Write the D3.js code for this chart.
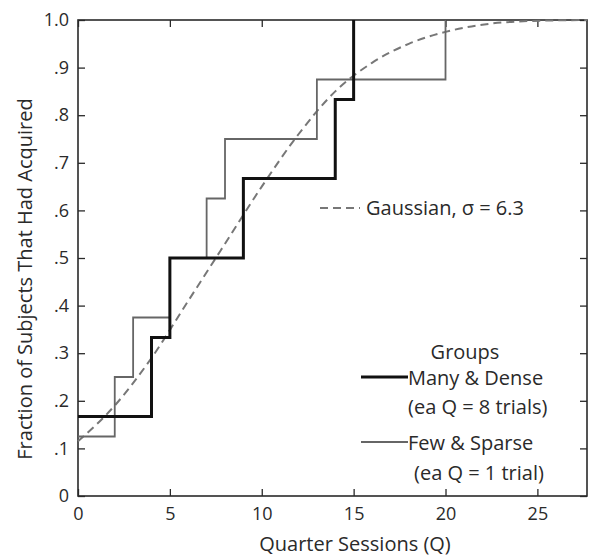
<!DOCTYPE html>
<html>
<head>
<meta charset="utf-8">
<script src="https://cdn.jsdelivr.net/npm/d3@7"></script>
<style>
  body { margin: 0; background: #fff; }
  text { font-family: "Open Sans", sans-serif; fill: #2a2a2a; }
</style>
</head>
<body>
<div id="vis-holder"></div>
<script>
// Chart size and plot margins
const width = 600;
const height = 557;
const margin = { top: 20, right: 13, bottom: 61, left: 78 };

// Step data: session where the fraction changes, and the fraction reached
const denseX = [0, 4, 5, 9, 14, 15];
const denseY = [0.167, 0.333, 0.5, 0.667, 0.833, 1.0];

const sparseX = [0, 2, 3, 5, 7, 8, 13, 20];
const sparseY = [0.125, 0.25, 0.375, 0.5, 0.625, 0.75, 0.875, 1.0];

// Gaussian curve
const gaussX = [0, 2, 4, 6, 8, 10, 12, 14, 16, 18, 20, 22, 24, 27.7];
const gaussY = [0.115, 0.19, 0.29, 0.41, 0.53, 0.65, 0.76, 0.85, 0.91, 0.95, 0.975, 0.99, 0.997, 1.0];

// Tick labels
const xTicks = [0, 5, 10, 15, 20, 25];
const yTicks = [0, 0.1, 0.2, 0.3, 0.4, 0.5, 0.6, 0.7, 0.8, 0.9, 1.0];
const yTickLabels = ["0", ".1", ".2", ".3", ".4", ".5", ".6", ".7", ".8", ".9", "1.0"];

const xMax = 27.7;

const svg = d3.select("#vis-holder")
  .append("svg")
  .attr("width", width)
  .attr("height", height);

const x = d3.scaleLinear()
  .domain([0, xMax])
  .range([margin.left, width - margin.right]);

const y = d3.scaleLinear()
  .domain([0, 1])
  .range([height - margin.bottom, margin.top]);

// Axes with inward ticks on all four sides
const tickLen = 7;
const axisColor = "#2a2a2a";
const tickFont = "18px";
const labelFont = "20px";

svg.append("g")
  .attr("transform", `translate(0,${height - margin.bottom})`)
  .call(d3.axisBottom(x).tickValues(xTicks).tickSizeInner(-tickLen).tickSizeOuter(0).tickPadding(11))
  .call(g => g.select(".domain").remove())
  .call(g => g.selectAll("line").attr("stroke", axisColor).attr("stroke-width", 1.3))
  .call(g => g.selectAll("text").attr("font-size", tickFont).attr("fill", "#2a2a2a")
    .attr("font-family", "Open Sans, sans-serif"));

svg.append("g")
  .attr("transform", `translate(0,${margin.top})`)
  .call(d3.axisTop(x).tickValues(xTicks).tickSizeInner(-tickLen).tickSizeOuter(0).tickFormat(""))
  .call(g => g.select(".domain").remove())
  .call(g => g.selectAll("line").attr("stroke", axisColor).attr("stroke-width", 1.3));

svg.append("g")
  .attr("transform", `translate(${margin.left},0)`)
  .call(d3.axisLeft(y).tickValues(yTicks).tickSizeInner(-tickLen).tickSizeOuter(0).tickPadding(9)
    .tickFormat((d, i) => yTickLabels[i]))
  .call(g => g.select(".domain").remove())
  .call(g => g.selectAll("line").attr("stroke", axisColor).attr("stroke-width", 1.3))
  .call(g => g.selectAll("text").attr("font-size", tickFont).attr("fill", "#2a2a2a")
    .attr("font-family", "Open Sans, sans-serif"));

svg.append("g")
  .attr("transform", `translate(${width - margin.right},0)`)
  .call(d3.axisRight(y).tickValues(yTicks).tickSizeInner(-tickLen).tickSizeOuter(0).tickFormat(""))
  .call(g => g.select(".domain").remove())
  .call(g => g.selectAll("line").attr("stroke", axisColor).attr("stroke-width", 1.3));

// Frame
svg.append("rect")
  .attr("x", x(0))
  .attr("y", y(1))
  .attr("width", x(xMax) - x(0))
  .attr("height", y(0) - y(1))
  .attr("fill", "none")
  .attr("stroke", axisColor)
  .attr("stroke-width", 1.6);

// Axis titles
svg.append("text")
  .attr("x", 355)
  .attr("y", 551)
  .attr("text-anchor", "middle")
  .attr("font-size", labelFont)
  .text("Quarter Sessions (Q)");

svg.append("text")
  .attr("transform", `translate(32,279) rotate(-90)`)
  .attr("text-anchor", "middle")
  .attr("font-size", labelFont)
  .text("Fraction of Subjects That Had Acquired");

// Lines
const stepLine = d3.line()
  .x(d => x(d[0]))
  .y(d => y(d[1]))
  .curve(d3.curveStepAfter);

const denseData = denseX.map((v, i) => [v, denseY[i]]);
const sparseData = sparseX.map((v, i) => [v, sparseY[i]]);
const gaussData = gaussX.map((v, i) => [v, gaussY[i]]);

svg.append("path")
  .datum(gaussData)
  .attr("d", d3.line().x(d => x(d[0])).y(d => y(d[1])).curve(d3.curveMonotoneX))
  .attr("fill", "none")
  .attr("stroke", "#777")
  .attr("stroke-width", 2)
  .attr("stroke-dasharray", "8,5");

svg.append("path")
  .datum(sparseData)
  .attr("d", stepLine)
  .attr("fill", "none")
  .attr("stroke", "#666")
  .attr("stroke-width", 1.8);

svg.append("path")
  .datum(denseData)
  .attr("d", stepLine)
  .attr("fill", "none")
  .attr("stroke", "#111")
  .attr("stroke-width", 3);

// Legends
svg.append("line")
  .attr("x1", 320).attr("x2", 360)
  .attr("y1", 208).attr("y2", 208)
  .attr("stroke", "#777")
  .attr("stroke-width", 2)
  .attr("stroke-dasharray", "8,5");

svg.append("text")
  .attr("x", 366)
  .attr("y", 215)
  .attr("font-size", labelFont)
  .text("Gaussian, σ = 6.3");

svg.append("text")
  .attr("x", 465)
  .attr("y", 359)
  .attr("text-anchor", "middle")
  .attr("font-size", labelFont)
  .text("Groups");

svg.append("line")
  .attr("x1", 361).attr("x2", 408)
  .attr("y1", 377).attr("y2", 377)
  .attr("stroke", "#111")
  .attr("stroke-width", 3);

svg.append("text")
  .attr("x", 408)
  .attr("y", 385)
  .attr("font-size", labelFont)
  .text("Many & Dense");

svg.append("text")
  .attr("x", 408)
  .attr("y", 414)
  .attr("font-size", labelFont)
  .text("(ea Q = 8 trials)");

svg.append("line")
  .attr("x1", 361).attr("x2", 408)
  .attr("y1", 442).attr("y2", 442)
  .attr("stroke", "#666")
  .attr("stroke-width", 1.8);

svg.append("text")
  .attr("x", 408)
  .attr("y", 450)
  .attr("font-size", labelFont)
  .text("Few & Sparse");

svg.append("text")
  .attr("x", 414)
  .attr("y", 480)
  .attr("font-size", labelFont)
  .text("(ea Q = 1 trial)");
</script>
</body>
</html>
